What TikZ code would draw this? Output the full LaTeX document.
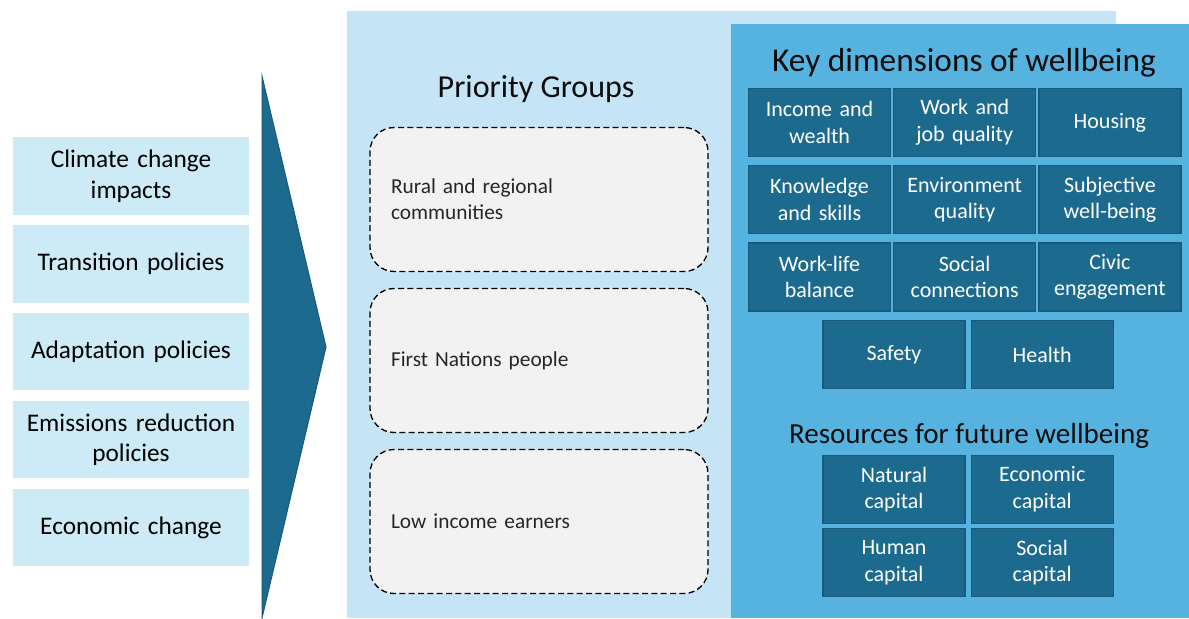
\documentclass[tikz,border=0pt]{standalone}
\usepackage{fontspec}
\setmainfont{Carlito}
\usepackage{xcolor}
\usetikzlibrary{positioning}
\definecolor{driverblue}{HTML}{CDEBF6}
\definecolor{panellight}{HTML}{C5E4F5}
\definecolor{panelmid}{HTML}{56B3E0}
\definecolor{celldark}{HTML}{1D6A8F}
\definecolor{celledge}{HTML}{175A7A}
\definecolor{groupgrey}{HTML}{F2F2F2}
\tikzset{
    driver/.style={
        rectangle,
        fill=driverblue,
        minimum width=177pt,
        minimum height=58pt,
        text width=170pt,
        align=center,
        inner sep=0pt,
        font=\fontsize{19}{23}\selectfont,
    },
    group/.style={
        rectangle,
        rounded corners=18pt,
        dash pattern=on 4.5pt off 2.5pt,
        line width=1pt,
        draw=black,
        fill=groupgrey,
        minimum width=253.5pt,
        minimum height=108pt,
        text width=222pt,
        align=left,
        inner xsep=15.75pt,
        font=\fontsize{16}{19.5}\selectfont,
        text=black!85,
    },
    dimension/.style={
        rectangle,
        draw=celledge,
        line width=0.9pt,
        fill=celldark,
        text=white,
        minimum width=106.5pt,
        minimum height=51pt,
        text width=100pt,
        align=center,
        inner sep=0pt,
        font=\fontsize{16.5}{20}\selectfont,
    },
    heading/.style={
        anchor=base,
        text=black!95,
    },
}
\begin{document}
\begin{tikzpicture}[x=0.75pt,y=-0.75pt]
          \useasboundingbox (0,0) rectangle (1189,618);
          \fill[panellight] (347,11) rectangle (1116,618);
          \fill[panelmid] (731,24) rectangle (1189,618);
          \filldraw[fill=celldark, draw=celledge, line width=0.75pt] (262,76) -- (326,347) -- (262,618) -- cycle;

          \node [driver] (climate) at (131,176) {Climate change\\impacts};
          \node [driver] (transition) [below=7.5pt of climate] {Transition policies};
          \node [driver] (adaptation) [below=7.5pt of transition] {Adaptation policies};
          \node [driver] (emissions) [below=7.5pt of adaptation] {Emissions reduction\\policies};
          \node [driver] (economic) [below=7.5pt of emissions] {Economic change};

          \node [heading, font=\fontsize{24}{29}\selectfont] (prioritytitle) at (536,97) {Priority Groups};
          \node [group] (rural) at (539,199.5) {Rural and regional\\communities};
          \node [group] (first) [below=11.75pt of rural] {First Nations people};
          \node [group] (low) [below=11.75pt of first] {Low income earners};

          \node [heading, font=\fontsize{25}{30}\selectfont] (keytitle) at (964,71) {Key dimensions of wellbeing};
          \node [dimension] (income) at (819.5,122.5) {Income and\\wealth};
          \node [dimension] (work) [right=1.5pt of income] {Work and\\job quality};
          \node [dimension] (housing) [right=1.5pt of work] {Housing};
          \node [dimension] (knowledge) [below=6pt of income] {Knowledge\\and skills};
          \node [dimension] (environment) [right=1.5pt of knowledge] {Environment\\quality};
          \node [dimension] (subjective) [right=1.5pt of environment] {Subjective\\well-being};
          \node [dimension] (worklife) [below=6pt of knowledge] {Work-life\\balance};
          \node [dimension] (social) [right=1.5pt of worklife] {Social\\connections};
          \node [dimension] (civic) [right=1.5pt of social] {Civic\\engagement};
          \node [dimension] (safety) at (894,354.5) {Safety};
          \node [dimension] (health) [right=3.75pt of safety] {Health};

          \node [heading, font=\fontsize{21.8}{26}\selectfont] (resourcetitle) at (969,443) {Resources for future wellbeing};
          \node [dimension] (natural) at (894,489.5) {Natural\\capital};
          \node [dimension] (economiccap) [right=3.75pt of natural] {Economic\\capital};
          \node [dimension] (human) [below=3pt of natural] {Human\\capital};
          \node [dimension] (socialcap) [right=3.75pt of human] {Social\\capital};
        \end{tikzpicture}
\end{document}
